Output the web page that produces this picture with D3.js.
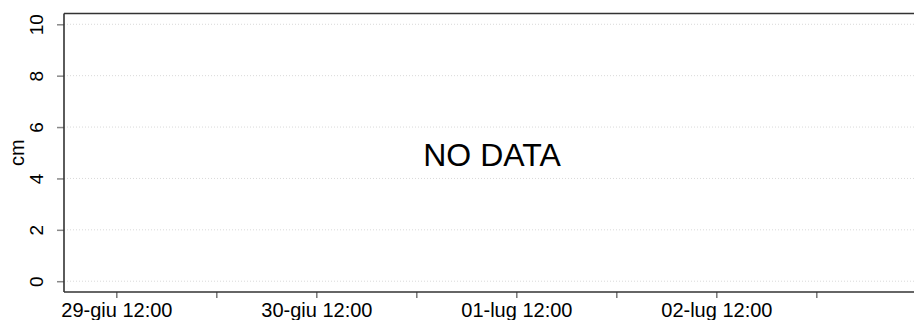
<!DOCTYPE html>
<html>
<head>
<meta charset="utf-8">
<script src="https://cdn.jsdelivr.net/npm/d3@7"></script>
<style>
  html, body { margin: 0; padding: 0; background: #fff; }
  svg { display: block; font-family: "Liberation Sans", Arial, Helvetica, sans-serif; }
</style>
</head>
<body>
<svg id="chart" width="914" height="320"></svg>
<script>
// ---- data ----
const yLabel = "cm";
const noDataText = "NO DATA";
const yDomain = [-0.42, 10.42];
const yTickValues = [0, 2, 4, 6, 8, 10];
const xDomain = ["2024-06-29T05:43:00", "2024-07-03T11:43:00"];
const xTickTimes = ["2024-06-29T12:00:00", "2024-06-30T00:00:00", "2024-06-30T12:00:00", "2024-07-01T00:00:00",
                    "2024-07-01T12:00:00", "2024-07-02T00:00:00", "2024-07-02T12:00:00", "2024-07-03T00:00:00"];
const xTickLabels = ["29-giu 12:00", "", "30-giu 12:00", "", "01-lug 12:00", "", "02-lug 12:00", ""];
const seriesValues = []; // no data available

// ---- layout ----
const W = 914, H = 320;
const margin = { left: 64, right: 0, top: 13.5, bottom: 28 };
const svg = d3.select("#chart");
const parse = d3.isoParse;

const x = d3.scaleTime().domain(xDomain.map(parse)).range([margin.left, W - margin.right]);
const y = d3.scaleLinear().domain(yDomain).range([H - margin.bottom, margin.top]);

// grid lines
svg.append("g").selectAll("line").data(yTickValues).join("line")
  .attr("x1", margin.left).attr("x2", W)
  .attr("y1", d => y(d)).attr("y2", d => y(d))
  .attr("stroke", "#d9d9d9").attr("stroke-width", 1)
  .attr("stroke-dasharray", "1,2");

// y axis
const yAxis = d3.axisLeft(y).tickValues(yTickValues).tickSize(7).tickPadding(0).tickFormat(d3.format("d"));
const gy = svg.append("g").attr("transform", `translate(${margin.left},0)`).call(yAxis);
gy.select(".domain").remove();
gy.selectAll(".tick line").attr("stroke", "#888").attr("stroke-width", 1.5);
gy.selectAll(".tick text")
  .attr("x", null).attr("dy", null)
  .attr("transform", "translate(-21,0) rotate(-90)")
  .attr("text-anchor", "middle")
  .attr("font-size", 19).attr("fill", "#000");

// x axis
const xAxis = d3.axisBottom(x).tickValues(xTickTimes.map(parse)).tickSize(6).tickPadding(0)
  .tickFormat((d, i) => xTickLabels[i]);
const gx = svg.append("g").attr("transform", `translate(0,${H - margin.bottom})`).call(xAxis);
gx.select(".domain").remove();
gx.selectAll(".tick line").attr("stroke", "#333").attr("stroke-width", 1);
gx.selectAll(".tick text")
  .attr("y", 25).attr("dy", null)
  .attr("font-size", 20).attr("fill", "#000");

// frame lines: left, top, bottom
const frame = svg.append("g").attr("stroke", "#333").attr("stroke-width", 1.6).attr("fill", "none");
frame.append("line").attr("x1", margin.left).attr("x2", margin.left).attr("y1", y.range()[1]).attr("y2", y.range()[0]);
frame.append("line").attr("x1", margin.left).attr("x2", W).attr("y1", y.range()[1]).attr("y2", y.range()[1]);
frame.append("line").attr("x1", margin.left).attr("x2", W).attr("y1", y.range()[0]).attr("y2", y.range()[0]);

// y label
svg.append("text")
  .attr("transform", `translate(24,${(y.range()[0] + y.range()[1]) / 2}) rotate(-90)`)
  .attr("text-anchor", "middle").attr("font-size", 20).attr("fill", "#000")
  .text(yLabel);

// no data message
if (seriesValues.length === 0) {
  svg.append("text")
    .attr("x", (x.range()[0] + x.range()[1]) / 2 + 3)
    .attr("y", (y.range()[0] + y.range()[1]) / 2 + 2)
    .attr("dy", "0.35em")
    .attr("text-anchor", "middle").attr("font-size", 32).attr("fill", "#000")
    .text(noDataText);
}
</script>
</body>
</html>
